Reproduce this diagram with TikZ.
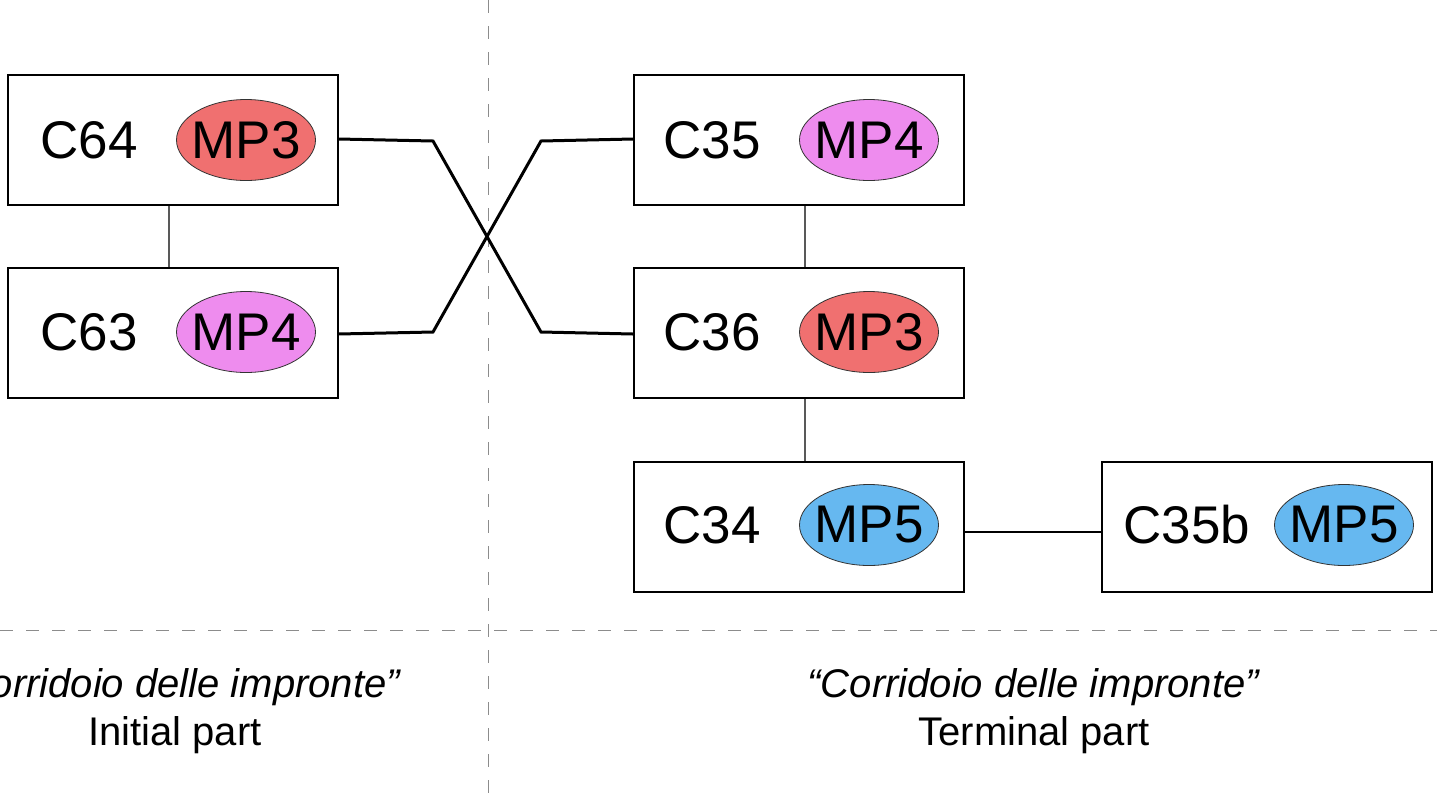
\documentclass[tikz,border=0pt]{standalone}
\usepackage{fontspec}
\setmainfont{Liberation Sans}
\usetikzlibrary{shapes.geometric}
\definecolor{mpred}{RGB}{240,112,112}
\definecolor{mppink}{RGB}{238,140,238}
\definecolor{mpblue}{RGB}{102,184,240}
\definecolor{dashgray}{RGB}{140,140,140}
\tikzset{
  cbox/.style={draw=black,line width=2pt,fill=white,minimum width=330pt,minimum height=130pt,inner sep=0pt},
  clabel/.style={font=\fontsize{53}{60}\selectfont,inner sep=0pt},
  mpell/.style={ellipse,draw=black!80,line width=0.8pt,minimum width=139pt,minimum height=81pt,inner xsep=-6pt,inner ysep=0pt,font=\fontsize{53}{60}\selectfont},
  thinlink/.style={draw=black!65,line width=2pt},
  crosslink/.style={draw=black,line width=3pt},
  seplink/.style={draw=dashgray,line width=1pt,dash pattern=on 13pt off 13pt},
  caption/.style={font=\fontsize{40}{48}\selectfont,align=center,inner sep=0pt}
}
\begin{document}
\begin{tikzpicture}[x=1pt,y=-1pt]
\clip (0,0) rectangle (1437,804);
\fill[white] (0,0) rectangle (1437,804);
% separators
\coordinate (vt) at (488,0);
\coordinate (vb) at (488,804);
\coordinate (hl) at (0,630);
\coordinate (hr) at (1437,630);
\draw[seplink] (vt) -- (vb);
\draw[seplink] (hl) -- (hr);
% boxes
\node[cbox] (c64) at (172.5,140) {};
\node[cbox] (c63) at (172.5,333) {};
\node[cbox] (c35) at (799,140) {};
\node[cbox] (c36) at (799,333) {};
\node[cbox] (c34) at (799,527) {};
\node[cbox] (c35b) at (1267,527) {};
% labels
\node[clabel] (t64) at (89,140) {C64};
\node[mpell,fill=mpred] (e64) at (246,140) {MP3};
\node[clabel] (t63) at (89,332) {C63};
\node[mpell,fill=mppink] (e63) at (246,332) {MP4};
\node[clabel] (t35) at (712,140) {C35};
\node[mpell,fill=mppink] (e35) at (869,140) {MP4};
\node[clabel] (t36) at (712,332) {C36};
\node[mpell,fill=mpred] (e36) at (869,332) {MP3};
\node[clabel] (t34) at (712,525) {C34};
\node[mpell,fill=mpblue] (e34) at (869,525) {MP5};
\node[clabel] (t35b) at (1187,525) {C35b};
\node[mpell,fill=mpblue] (e35b) at (1344,525) {MP5};
% connectors
\draw[thinlink] ([xshift=-4pt]c64.south) -- ([xshift=-4pt]c63.north);
\draw[thinlink] ([xshift=6pt]c35.south) -- ([xshift=6pt]c36.north);
\draw[thinlink] ([xshift=6pt]c36.south) -- ([xshift=6pt]c34.north);
\coordinate (b1) at (433,141);
\coordinate (b2) at (541,332);
\coordinate (b3) at (433,332);
\coordinate (b4) at (541,141);
\draw[crosslink,line join=miter] ([yshift=1pt]c64.east) -- (b1) -- (b2) -- ([yshift=-1pt]c36.west);
\draw[crosslink,line join=miter] ([yshift=-1pt]c63.east) -- (b3) -- (b4) -- ([yshift=1pt]c35.west);
\draw[draw=black,line width=2.5pt] ([yshift=-5pt]c34.east) -- ([yshift=-5pt]c35b.west);
% captions
\node[caption] (capl) at (175,711) {\textit{“Corridoio delle impronte”}\\Initial part};
\node[caption] (capr) at (1034,711) {\textit{“Corridoio delle impronte”}\\Terminal part};
\end{tikzpicture}
\end{document}
